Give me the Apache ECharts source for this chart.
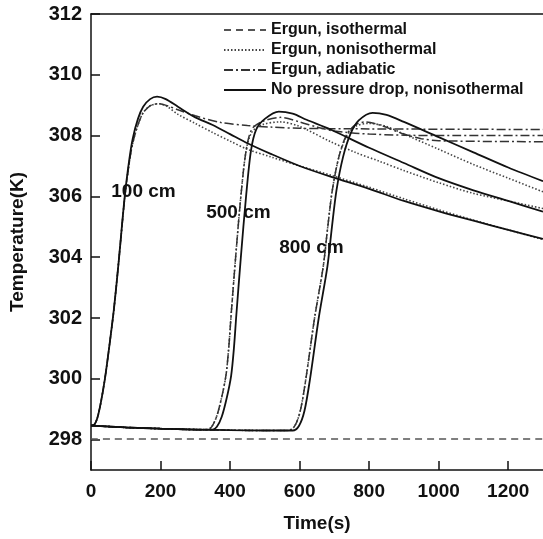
<!DOCTYPE html>
<html>
<head>
<meta charset="utf-8">
<script src="https://cdn.jsdelivr.net/npm/echarts@6/dist/echarts.min.js"></script>
<style>
html,body{margin:0;padding:0;background:#fff}
#chart{width:543px;height:539px}
</style>
</head>
<body>
<div id="chart"></div>
<script>
// tick labels
var xTicks = [0, 200, 400, 600, 800, 1000, 1200];
var yTicks = [298, 300, 302, 304, 306, 308, 310, 312];
var legendNames = ['Ergun, isothermal', 'Ergun, nonisothermal', 'Ergun, adiabatic', 'No pressure drop, nonisothermal'];

// [time s, temperature K]
var iso = [[0, 298.02], [1300, 298.02]];

var solid100 = [[0,298.46],[10,298.5],[18,298.7],[28,299.2],[40,300],[53,301.1],[66,302.3],[80,303.9],[97,306],[110,307.2],[120,307.9],[135,308.55],[150,308.95],[170,309.2],[190,309.28],[215,309.2],[250,308.95],[300,308.6],[350,308.35],[400,308.05],[450,307.75],[517,307.4],[600,307.0],[689,306.65],[800,306.25],[900,305.85],[1003,305.5],[1100,305.2],[1200,304.9],[1300,304.6]];
var noniso100 = [[0,298.46],[10,298.5],[18,298.7],[28,299.2],[40,300],[53,301.1],[66,302.3],[80,303.9],[97,305.95],[110,307.1],[120,307.75],[135,308.35],[150,308.75],[170,308.98],[195,309.05],[220,308.95],[250,308.7],[300,308.4],[350,308.1],[400,307.82],[450,307.55],[517,307.3],[600,307.0],[689,306.7],[800,306.3],[900,305.92],[1003,305.55],[1100,305.22],[1200,304.9],[1300,304.58]];
var adi100 = [[0,298.46],[10,298.5],[18,298.7],[28,299.2],[40,300],[53,301.1],[66,302.3],[80,303.9],[97,305.95],[110,307.1],[120,307.75],[135,308.35],[150,308.75],[170,308.98],[195,309.05],[220,308.98],[250,308.85],[300,308.65],[374,308.43],[450,308.33],[517,308.28],[600,308.24],[800,308.22],[1300,308.2]];

var solid500 = [[0,298.46],[100,298.4],[200,298.36],[300,298.33],[350,298.33],[362,298.42],[376,298.75],[390,299.35],[403,300.1],[411,301.0],[418,302.1],[431,304],[446,306],[460,307.5],[475,308.2],[500,308.55],[540,308.79],[580,308.72],[620,308.52],[689,308.2],[800,307.6],[900,307.1],[1000,306.6],[1100,306.2],[1200,305.85],[1300,305.5]];
var noniso500 = [[0,298.46],[100,298.4],[200,298.36],[300,298.33],[335,298.33],[347,298.42],[361,298.75],[375,299.35],[388,300.1],[396,301.0],[403,302.1],[416,304],[431,306],[446,307.5],[462,308.1],[490,308.35],[545,308.45],[600,308.3],[689,307.8],[760,307.45],[831,307.15],[900,306.85],[1000,306.45],[1100,306.1],[1200,305.85],[1300,305.6]];
var adi500 = [[0,298.46],[100,298.4],[200,298.36],[300,298.33],[335,298.33],[347,298.42],[361,298.75],[375,299.35],[388,300.1],[396,301.0],[403,302.1],[416,304],[431,306],[446,307.5],[462,308.2],[490,308.45],[545,308.6],[600,308.45],[650,308.28],[700,308.15],[800,308.05],[1000,308.0],[1300,308.0]];

var solid800 = [[0,298.46],[100,298.4],[200,298.36],[300,298.33],[400,298.31],[500,298.3],[580,298.3],[598,298.45],[614,298.95],[630,300],[655,302],[680,303.7],[693,305],[706,306.2],[725,307.3],[746,308.05],[770,308.5],[810,308.75],[850,308.68],[900,308.45],[1000,307.95],[1100,307.45],[1200,306.95],[1300,306.5]];
var noniso800 = [[0,298.46],[100,298.4],[200,298.36],[300,298.33],[400,298.31],[500,298.3],[568,298.3],[586,298.45],[602,298.95],[618,300],[643,302],[668,303.7],[681,305],[694,306.2],[713,307.3],[734,307.95],[760,308.3],[800,308.4],[850,308.3],[900,308.05],[1000,307.55],[1100,307.05],[1200,306.6],[1300,306.15]];
var adi800 = [[0,298.46],[100,298.4],[200,298.36],[300,298.33],[400,298.31],[500,298.3],[568,298.3],[586,298.45],[602,298.95],[618,300],[643,302],[668,303.7],[681,305],[694,306.2],[713,307.3],[734,308.0],[760,308.35],[790,308.45],[830,308.35],[900,308.05],[950,307.9],[1000,307.83],[1300,307.8]];

// curve labels: [text, time, temperature]
var notes = [['100 cm', 151, 306.16], ['500 cm', 424, 305.45], ['800 cm', 634, 304.32]];

var chart = echarts.init(document.getElementById('chart'));
var font = '"Liberation Sans", Arial, sans-serif';

var styles = {
    iso: { type: [7, 5], color: '#555', width: 1.6 },
    noniso: { type: [1.5, 2], color: '#444', width: 1.6 },
    adi: { type: [9, 3, 2, 3], color: '#333', width: 1.5 },
    solid: { type: 'solid', color: '#111', width: 1.8 }
};

function line(name, data, st) {
    return {
        name: name,
        type: 'line',
        data: data,
        symbol: 'none',
        showSymbol: false,
        smooth: 0.3,
        lineStyle: st,
        itemStyle: { color: st.color },
        z: st.type === 'solid' ? 5 : 3
    };
}

var series = [
    line(legendNames[0], iso, styles.iso),
    line(legendNames[1], noniso100, styles.noniso),
    line(legendNames[1], noniso500, styles.noniso),
    line(legendNames[1], noniso800, styles.noniso),
    line(legendNames[2], adi100, styles.adi),
    line(legendNames[2], adi500, styles.adi),
    line(legendNames[2], adi800, styles.adi),
    line(legendNames[3], solid100, styles.solid),
    line(legendNames[3], solid500, styles.solid),
    line(legendNames[3], solid800, styles.solid),
    {
        type: 'scatter',
        symbolSize: 0,
        silent: true,
        itemStyle: { opacity: 1 },
        data: notes.map(function (n) { return { name: n[0], value: [n[1], n[2]] }; }),
        label: {
            show: true,
            position: 'inside',
            formatter: function (p) { return p.name; },
            color: '#111',
            fontFamily: font,
            fontSize: 19,
            fontWeight: 'bold'
        },
        z: 6
    }
];

function plain(v) { return String(v); }

chart.setOption({
    animation: false,
    backgroundColor: '#fff',
    grid: { left: 89, top: 14, right: 0, bottom: 69 },
    legend: {
        data: legendNames,
        orient: 'vertical',
        left: 218,
        top: 17,
        itemWidth: 42,
        itemHeight: 14,
        itemGap: 4,
        itemStyle: { opacity: 0 },
        textStyle: { color: '#111', fontFamily: font, fontSize: 16, fontWeight: 'bold' }
    },
    xAxis: [{
        type: 'value',
        min: 0,
        max: 1300,
        name: 'Time(s)',
        nameLocation: 'middle',
        nameGap: 44,
        nameTextStyle: { color: '#111', fontFamily: font, fontSize: 19, fontWeight: 'bold' },
        axisLine: { lineStyle: { color: '#111', width: 1.5 } },
        axisTick: { inside: true, length: 9, customValues: xTicks, lineStyle: { color: '#111', width: 1.5 } },
        axisLabel: { customValues: xTicks, formatter: plain, margin: 12, color: '#111', fontFamily: font, fontSize: 19, fontWeight: 'bold' },
        splitLine: { show: false }
    }, {
        type: 'value',
        position: 'top',
        min: 0,
        max: 1300,
        axisLine: { show: true, lineStyle: { color: '#111', width: 1.5 } },
        axisTick: { show: false },
        axisLabel: { show: false },
        splitLine: { show: false }
    }],
    yAxis: {
        type: 'value',
        min: 297,
        max: 312,
        name: 'Temperature(K)',
        nameLocation: 'middle',
        nameGap: 64,
        nameTextStyle: { color: '#111', fontFamily: font, fontSize: 19, fontWeight: 'bold' },
        axisLine: { show: true, lineStyle: { color: '#111', width: 1.5 } },
        axisTick: { inside: true, length: 9, customValues: yTicks, lineStyle: { color: '#111', width: 1.5 } },
        axisLabel: { customValues: yTicks, formatter: plain, margin: 9, color: '#111', fontFamily: font, fontSize: 20, fontWeight: 'bold' },
        splitLine: { show: false }
    },
    series: series
});
</script>
</body>
</html>
